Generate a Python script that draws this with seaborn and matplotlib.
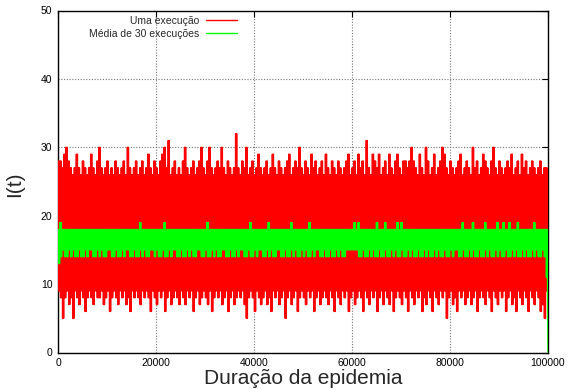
import numpy as np
import pandas as pd
import matplotlib
matplotlib.use("Agg")
import matplotlib.pyplot as plt
import seaborn as sns

# ---- data (per time bin, max / min of I(t)) ----
t_max = 100000
red_hi = [
    28, 28, 27, 29, 30, 28, 27, 26, 27, 29, 27, 26, 28, 27, 26, 27, 29, 27, 26, 28,
    30, 27, 26, 27, 28, 26, 27, 26, 28, 27, 26, 27, 28, 26, 30, 27, 26, 27, 28, 26,
    27, 28, 26, 27, 29, 27, 26, 28, 27, 26, 28, 29, 30, 27, 31, 26, 27, 28, 26, 27,
    26, 28, 30, 27, 26, 27, 28, 26, 27, 28, 30, 27, 26, 28, 30, 27, 26, 27, 28, 27,
    30, 27, 26, 28, 27, 26, 27, 32, 27, 26, 28, 27, 30, 26, 27, 28, 26, 27, 29, 27,
    26, 27, 28, 26, 27, 29, 27, 26, 28, 27, 26, 27, 28, 29, 26, 27, 28, 27, 30, 27,
    26, 28, 27, 26, 29, 27, 28, 26, 27, 28, 26, 29, 27, 26, 28, 27, 26, 28, 27, 26,
    27, 28, 29, 26, 27, 28, 26, 29, 27, 28, 26, 31, 27, 26, 29, 28, 27, 29, 26, 27,
    28, 26, 29, 27, 26, 28, 29, 27, 26, 28, 28, 27, 28, 30, 28, 27, 26, 29, 27, 26,
    30, 28, 26, 27, 29, 26, 27, 28, 30, 29, 27, 26, 28, 27, 26, 27, 28, 29, 26, 27,
    28, 27, 26, 30, 27, 28, 26, 27, 29, 28, 27, 26, 28, 30, 27, 26, 28, 27, 26, 27,
    28, 27, 29, 26, 27, 28, 26, 29, 27, 28, 26, 27, 28, 27, 26, 27, 28, 26, 27, 27]
red_lo = [
    9, 8, 5, 8, 9, 7, 8, 5, 9, 8, 7, 9, 8, 6, 8, 9, 8, 7, 9, 8,
    8, 9, 7, 8, 9, 6, 8, 9, 8, 7, 9, 8, 9, 7, 8, 6, 9, 8, 9, 8,
    7, 9, 8, 9, 8, 6, 9, 8, 7, 9, 8, 9, 6, 8, 9, 7, 8, 9, 8, 7,
    9, 8, 7, 9, 8, 9, 6, 8, 9, 7, 8, 9, 8, 7, 9, 6, 8, 9, 8, 9,
    7, 8, 9, 6, 8, 9, 7, 8, 9, 8, 9, 7, 5, 8, 9, 8, 6, 9, 8, 7,
    8, 9, 7, 8, 6, 9, 8, 9, 7, 8, 9, 5, 8, 9, 7, 8, 9, 6, 8, 9,
    8, 7, 9, 8, 9, 6, 8, 9, 7, 8, 9, 8, 7, 9, 8, 6, 9, 8, 7, 9,
    8, 9, 6, 8, 9, 7, 8, 9, 8, 6, 9, 8, 7, 9, 8, 9, 6, 8, 9, 7,
    9, 8, 7, 9, 6, 8, 9, 8, 7, 9, 8, 6, 9, 8, 7, 9, 8, 9, 6, 8,
    7, 9, 8, 6, 9, 8, 7, 9, 8, 9, 5, 8, 9, 7, 8, 6, 9, 8, 9, 7,
    8, 9, 7, 8, 9, 6, 8, 9, 8, 7, 9, 8, 6, 9, 8, 7, 9, 8, 9, 6,
    8, 9, 7, 8, 6, 9, 8, 7, 9, 8, 6, 9, 8, 7, 9, 8, 6, 7, 5, 9]
green_hi = [
    18, 19, 18, 18, 18, 18, 18, 18, 18, 18, 18, 18, 18, 18, 18, 18, 18, 18, 18, 18,
    18, 18, 18, 18, 18, 18, 18, 18, 18, 18, 18, 18, 18, 18, 18, 18, 18, 18, 18, 18,
    19, 18, 18, 18, 18, 18, 18, 18, 18, 18, 18, 18, 19, 18, 18, 18, 18, 18, 18, 18,
    18, 18, 18, 18, 18, 18, 18, 18, 18, 18, 18, 18, 18, 19, 18, 18, 18, 18, 18, 18,
    18, 18, 18, 18, 18, 18, 18, 18, 18, 18, 18, 18, 18, 18, 19, 18, 18, 18, 18, 18,
    18, 18, 18, 19, 18, 18, 18, 18, 18, 18, 18, 18, 18, 18, 19, 18, 18, 18, 18, 18,
    18, 18, 18, 19, 18, 18, 18, 18, 18, 18, 18, 18, 18, 18, 18, 18, 18, 18, 18, 18,
    18, 18, 18, 18, 18, 19, 18, 19, 18, 18, 18, 18, 18, 18, 18, 18, 19, 18, 18, 18,
    19, 18, 18, 18, 18, 18, 19, 18, 19, 18, 18, 18, 18, 18, 18, 18, 18, 18, 18, 18,
    18, 18, 18, 18, 18, 18, 18, 18, 18, 18, 18, 18, 18, 18, 18, 18, 18, 18, 19, 18,
    18, 18, 18, 19, 18, 18, 18, 18, 18, 19, 18, 18, 18, 18, 18, 19, 18, 18, 19, 18,
    18, 19, 18, 18, 18, 19, 18, 18, 18, 18, 18, 18, 18, 19, 18, 18, 18, 18, 18, 18]
green_lo = [
    13, 14, 15, 14, 14, 15, 14, 15, 14, 14, 15, 14, 14, 15, 14, 15, 15, 14, 14, 15,
    14, 15, 14, 14, 15, 15, 14, 14, 15, 14, 14, 15, 14, 15, 15, 14, 14, 15, 14, 14,
    15, 14, 15, 14, 14, 15, 15, 14, 15, 14, 14, 15, 14, 14, 15, 14, 15, 15, 14, 14,
    15, 14, 14, 15, 14, 15, 14, 14, 15, 15, 14, 14, 15, 14, 14, 15, 14, 15, 14, 14,
    15, 15, 14, 14, 15, 14, 14, 15, 14, 15, 15, 14, 14, 15, 14, 14, 15, 14, 15, 15,
    14, 14, 15, 14, 15, 14, 14, 15, 15, 14, 14, 15, 14, 14, 15, 14, 15, 14, 14, 15,
    14, 15, 14, 14, 15, 14, 15, 15, 14, 14, 15, 14, 14, 15, 14, 14, 15, 14, 15, 14,
    14, 15, 15, 15, 15, 15, 15, 14, 14, 15, 14, 14, 15, 14, 15, 14, 14, 15, 14, 14,
    15, 14, 14, 15, 14, 15, 14, 14, 15, 14, 14, 15, 14, 15, 14, 14, 15, 14, 14, 15,
    14, 15, 14, 14, 15, 14, 15, 14, 14, 15, 14, 14, 15, 14, 15, 15, 14, 14, 15, 14,
    14, 15, 14, 15, 14, 14, 15, 14, 14, 15, 14, 15, 14, 14, 15, 14, 15, 14, 14, 15,
    14, 14, 15, 14, 15, 14, 14, 15, 14, 15, 14, 14, 15, 14, 15, 14, 14, 15, 14, 11]
red_end = 10
green_end = 0
labels = ["Uma execução", "Média de 30 execuções"]
colors = ["#ff0000", "#00ff00"]
x_ticks = [0, 20000, 40000, 60000, 80000, 100000]
y_ticks = [0, 10, 20, 30, 40, 50]


def zigzag(hi, lo, end, name, sub=2):
    # each time bin is drawn as a fast oscillation between its max and min
    n = len(hi)
    step = t_max / n
    ts, vs = [], []
    for i in range(n):
        for k in range(sub):
            ts += [i * step + (2 * k) * step / (2 * sub),
                   i * step + (2 * k + 1) * step / (2 * sub)]
            vs += [hi[i], lo[i]]
    ts.append(t_max)
    vs.append(end)
    return pd.DataFrame({"t": ts, "I": vs, "serie": name})


df = pd.concat([zigzag(red_hi, red_lo, red_end, labels[0]),
                zigzag(green_hi, green_lo, green_end, labels[1])],
               ignore_index=True)

sns.set_style("white")
plt.rcParams["font.family"] = ["Liberation Sans", "DejaVu Sans"]

fig = plt.figure(figsize=(5.7, 3.9), dpi=100)
ax = fig.add_axes([58 / 570, 37.5 / 390, 490 / 570, 342 / 390])

sns.lineplot(data=df, x="t", y="I", hue="serie", hue_order=labels,
             palette=dict(zip(labels, colors)), estimator=None, sort=False,
             linewidth=1.0, ax=ax, zorder=3)

ax.set_xlim(0, t_max)
ax.set_ylim(0, 50)
ax.set_xticks(x_ticks)
ax.set_yticks(y_ticks)
ax.set_xticklabels([str(v) for v in x_ticks])
ax.set_yticklabels([str(v) for v in y_ticks])
ax.tick_params(direction="in", length=4, width=0.8, labelsize=7.5,
               top=True, right=True, colors="black", pad=4)
ax.grid(True, color="#777777", linestyle=(0, (1, 1.5)), linewidth=0.8, zorder=0)
ax.set_axisbelow(True)
for s in ax.spines.values():
    s.set_color("black")
    s.set_linewidth(1.0)

ax.set_xlabel("Duração da epidemia", fontsize=15)
ax.set_ylabel("I(t)", fontsize=15)
ax.xaxis.set_label_coords(0.5, -0.048)
ax.xaxis.label.set_va("top")
ax.yaxis.set_label_coords(-0.088, 0.493)
ax.yaxis.label.set_va("center")

h, l = ax.get_legend_handles_labels()
ax.legend(h, l, loc="upper right", bbox_to_anchor=(0.38, 1.005), frameon=False,
          markerfirst=False, fontsize=7.5, handlelength=3.0, handletextpad=0.6,
          labelspacing=0.25, borderaxespad=0.3)

fig.savefig("out.png", dpi=100)
